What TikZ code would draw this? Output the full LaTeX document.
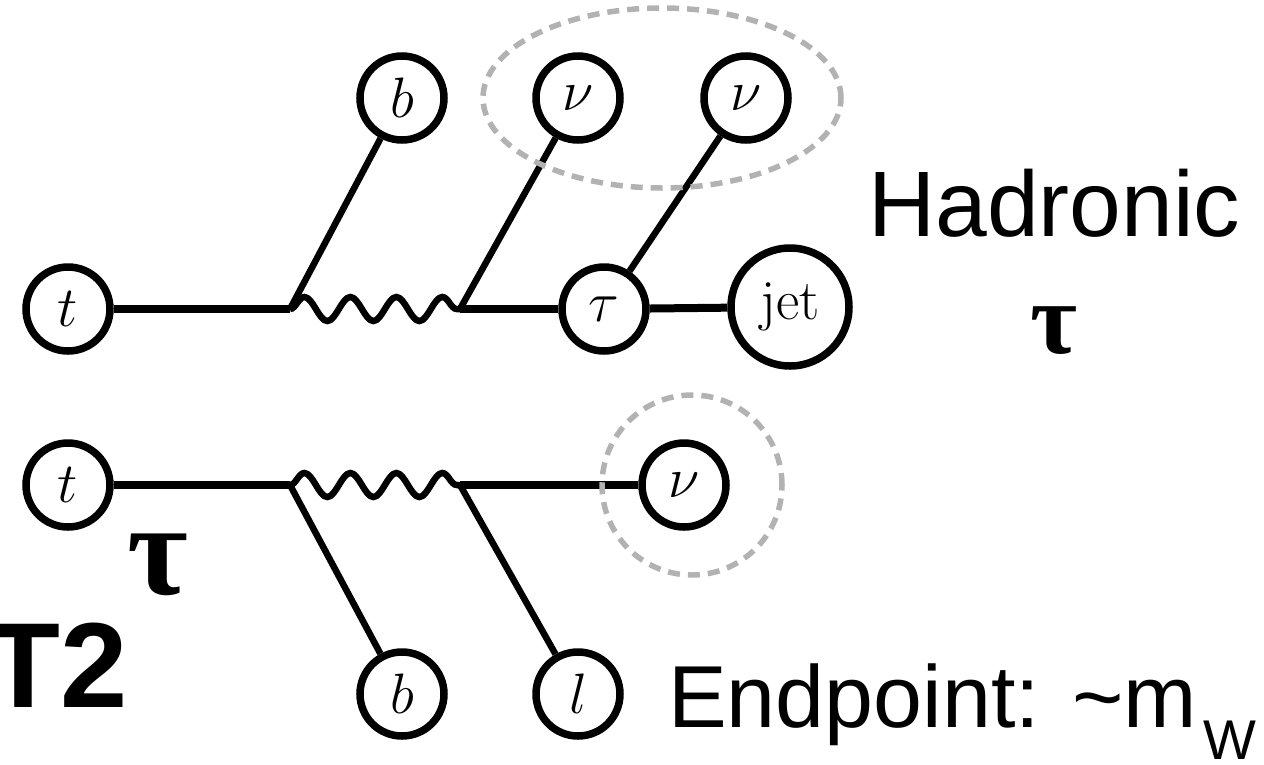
\RequirePackage{fix-cm}
\documentclass[tikz,border=0pt]{standalone}
\usepackage{fontspec}
\usepackage{tikz}
\usetikzlibrary{calc,decorations.pathmorphing}
\newfontfamily\labelfont{Liberation Sans}
\newfontfamily\taufont{Liberation Serif}

\begin{document}
\begin{tikzpicture}[x=1pt,y=-1pt,
  part/.style={circle,draw,line width=7.5pt,minimum size=84pt,inner sep=0pt,font=\fontsize{57}{62}\selectfont},
  fline/.style={line width=8pt},
  leg/.style={line width=6.5pt},
  wboson/.style={line width=6.5pt,decorate,decoration={snake,segment length=46pt,amplitude=12pt}},
  ring/.style={draw=black!30,line width=5.5pt,dash pattern=on 12pt off 8pt},
  lbl/.style={inner sep=0pt}]
\useasboundingbox (0,0) rectangle (1264,764);

\node[part] (t1) at (68,309) {$t$};
\node[part] (b1) at (402,98) {$b$};
\node[part] (nu1) at (578,98) {$\nu$};
\node[part] (nu2) at (746,98) {$\nu$};
\node[part] (tau) at (604,309) {$\tau$};
\node[part,minimum size=118pt] (jet) at (790,307) {jet};
\coordinate (wa) at (290,309);
\coordinate (wb) at (460,309);

\draw[fline] (t1) -- (wa);
\draw[wboson] (wa) -- (wb);
\draw[fline] (wb) -- (tau);
\draw[fline] (tau) -- (jet);
\draw[leg] (wa) -- (b1);
\draw[leg] (wb) -- (nu1);
\draw[leg] (tau) -- (nu2);
\draw[ring] ($(nu1)!.5!(nu2)$) ellipse [x radius=179pt, y radius=90pt];

\node[part] (t2) at (68,485) {$t$};
\node[part] (nu3) at (684,485) {$\nu$};
\node[part] (b2) at (402,694) {$b$};
\node[part] (l2) at (578,694) {$l$};
\coordinate (wc) at (290,485);
\coordinate (wd) at (460,485);

\draw[fline] (t2) -- (wc);
\draw[wboson] (wc) -- (wd);
\draw[fline] (wd) -- (nu3);
\draw[leg] (wc) -- (b2);
\draw[leg] (wd) -- (l2);
\draw[ring] ([xshift=8pt]nu3.center) circle [radius=90pt];

\node[lbl,anchor=base west,font=\labelfont\fontsize{93}{100}\selectfont] (hadr) at (868,236) {Hadronic};
\node[lbl,font=\taufont\bfseries\fontsize{102}{110}\selectfont] (tauh) at (1054,331) {τ};
\node[lbl,font=\taufont\bfseries\fontsize{132}{140}\selectfont] (taul) at (158,565) {τ};
\node[lbl,anchor=base east,font=\labelfont\bfseries\fontsize{121}{130}\selectfont] (mt2) at (128,707) {T2};
\node[lbl,anchor=base west,font=\labelfont\fontsize{88}{96}\selectfont] (endp) at (668,727)
  {Endpoint: \symbol{126}m\hspace{6pt}\raisebox{-32pt}{\fontsize{56}{60}\selectfont W}};
\end{tikzpicture}
\end{document}
